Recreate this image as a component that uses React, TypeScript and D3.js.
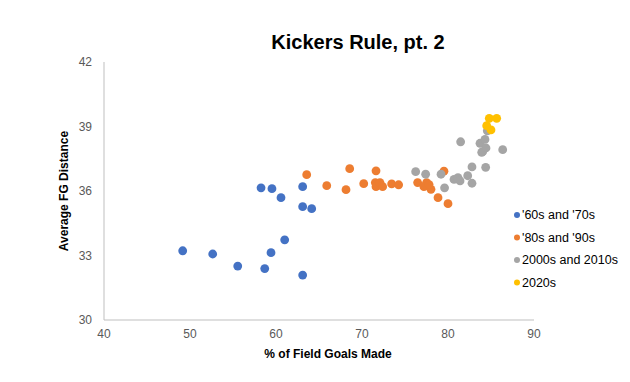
import React from "react";
import * as d3 from "d3";

const series = ["'60s and '70s", "'80s and '90s", "2000s and 2010s", "2020s"];
const colors = ["#4472C4", "#ED7D31", "#A5A5A5", "#FFC000"];

const blueX = [49.15, 52.64, 55.55, 58.69, 59.42, 61.01, 63.1, 58.26, 59.53, 60.58, 63.1, 63.1, 64.15];
const blueY = [33.22, 33.07, 32.51, 32.39, 33.13, 33.73, 32.09, 36.15, 36.11, 35.69, 36.2, 35.27, 35.18];

const orangeX = [63.57, 65.9, 68.57, 68.14, 70.2, 71.63, 71.55, 71.63, 72.09, 72.4, 73.45, 74.26, 76.47, 77.51, 77.2, 78.02, 79.53, 78.84, 80.0, 77.8];
const orangeY = [36.76, 36.25, 37.04, 36.06, 36.34, 36.94, 36.39, 36.2, 36.39, 36.2, 36.33, 36.29, 36.39, 36.39, 36.2, 36.08, 36.92, 35.69, 35.41, 36.3];

const grayX = [76.24, 77.4, 79.19, 79.6, 80.7, 81.16, 81.4, 82.29, 82.79, 82.79, 84.38, 81.47, 83.72, 84.3, 84.03, 83.92, 86.36, 84.57, 84.42];
const grayY = [36.9, 36.78, 36.78, 36.15, 36.54, 36.62, 36.47, 36.71, 37.12, 36.36, 37.1, 38.29, 38.22, 38.4, 37.83, 37.8, 37.92, 38.8, 38.0];

const yellowX = [84.8, 85.66, 84.5, 85.0];
const yellowY = [39.38, 39.38, 39.04, 38.84];

const xTicks = [40, 50, 60, 70, 80, 90];
const yTicks = [30, 33, 36, 39, 42];

const allX = [blueX, orangeX, grayX, yellowX];
const allY = [blueY, orangeY, grayY, yellowY];

export default function App() {
  const W = 630, H = 382;
  const x = d3.scaleLinear().domain([40, 90]).range([104, 534]);
  const y = d3.scaleLinear().domain([30, 42]).range([320, 62]);
  const font = "'Liberation Sans', Arial, sans-serif";
  return (
    <svg width={W} height={H} style={{ position: "absolute", left: 0, top: 0, fontFamily: font }}>
      <rect width={W} height={H} fill="#fff" />
      <text x={358} y={49} textAnchor="middle" fontSize={20} fontWeight="bold" fill="#000">Kickers Rule, pt. 2</text>
      <line x1={x(40)} x2={x(40)} y1={y(42)} y2={y(30)} stroke="#BFBFBF" />
      <line x1={x(40)} x2={x(90)} y1={y(30)} y2={y(30)} stroke="#BFBFBF" />
      {yTicks.map(t => (
        <text key={t} x={92} y={y(t) + 4} textAnchor="end" fontSize={12} fill="#595959">{t}</text>
      ))}
      {xTicks.map(t => (
        <text key={t} x={x(t)} y={338} textAnchor="middle" fontSize={12} fill="#595959">{t}</text>
      ))}
      <text x={328} y={358} textAnchor="middle" fontSize={12} fontWeight="bold" fill="#000">% of Field Goals Made</text>
      <text transform={`translate(68,${y(36)}) rotate(-90)`} textAnchor="middle" fontSize={12} fontWeight="bold" fill="#000">Average FG Distance</text>
      {allX.map((xs, si) => (
        <g key={si}>
          {xs.map((v, i) => (
            <circle key={i} cx={x(v)} cy={y(allY[si][i])} r={4.4} fill={colors[si]} />
          ))}
        </g>
      ))}
      {series.map((s, i) => (
        <g key={s} transform={`translate(517,${215 + i * 22.5})`}>
          <circle cx={0} cy={0} r={3} fill={colors[i]} />
          <text x={5} y={4} fontSize={12.5} fill="#000">{s}</text>
        </g>
      ))}
    </svg>
  );
}
